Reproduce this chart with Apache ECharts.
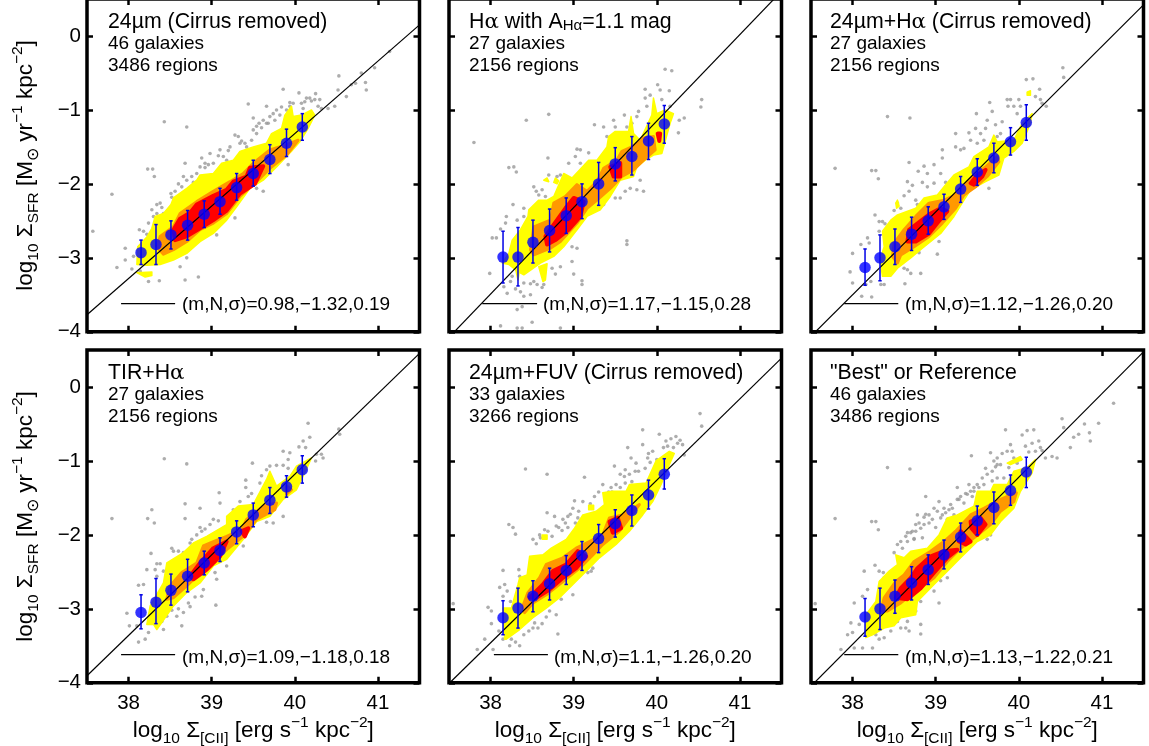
<!DOCTYPE html>
<html><head><meta charset="utf-8">
<style>html,body{margin:0;padding:0;background:#fff}#c{width:1149px;height:746px}</style>
<script src="https://cdn.jsdelivr.net/npm/echarts@6/dist/echarts.min.js"></script>
</head><body><div id="c"></div>
<script>
const xTicks=[38,39,40,41];
const yTicks=[-4,-3,-2,-1,0];
const fitX=[37.5,41.5];
const keyY=-3.62;

const titles=['24µm (Cirrus removed)','H{a|α} with A{s|Hα}=1.1 mag','24µm+H{a|α} (Cirrus removed)','TIR+H{a|α}','24µm+FUV (Cirrus removed)','"Best" or Reference'];
const galaxies=['46 galaxies','27 galaxies','27 galaxies','27 galaxies','33 galaxies','46 galaxies'];
const regions=['3486 regions','2156 regions','2156 regions','2156 regions','3266 regions','3486 regions'];
const fitLabels=['(m,N,σ)=0.98,−1.32,0.19','(m,N,σ)=1.17,−1.15,0.28','(m,N,σ)=1.12,−1.26,0.20','(m,N,σ)=1.09,−1.18,0.18','(m,N,σ)=1.1,−1.26,0.20','(m,N,σ)=1.13,−1.22,0.21'];
const fitY=[[-3.77,0.15],[-4.075,0.605],[-4.06,0.42],[-3.905,0.455],[-4.01,0.39],[-4.045,0.475]];
const keyX=[[37.91,38.56],[37.9,38.56],[37.9,38.55],[37.91,38.56],[38.04,38.69],[37.9,38.55]];

const binX=[38.15,38.33,38.51,38.71,38.91,39.1,39.3,39.5,39.7,39.9,40.09];
const binY1=[-2.93,-2.82,-2.69,-2.56,-2.41,-2.24,-2.05,-1.86,-1.67,-1.45,-1.23];
const binHi1=[-2.76,-2.55,-2.50,-2.36,-2.23,-2.06,-1.86,-1.68,-1.47,-1.26,-1.05];
const binLo1=[-3.09,-3.09,-2.88,-2.76,-2.59,-2.41,-2.22,-2.03,-1.86,-1.63,-1.41];
const binY2=[-2.99,-2.99,-2.79,-2.63,-2.43,-2.24,-2.00,-1.73,-1.63,-1.42,-1.19];
const binHi2=[-2.64,-2.59,-2.49,-2.34,-2.19,-2.0,-1.71,-1.51,-1.36,-1.18,-0.94];
const binLo2=[-3.34,-3.38,-3.07,-2.92,-2.67,-2.47,-2.29,-1.96,-1.88,-1.67,-1.45];
const binY3=[-3.13,-3.0,-2.85,-2.68,-2.50,-2.31,-2.07,-1.84,-1.65,-1.43,-1.17];
const binHi3=[-2.88,-2.69,-2.61,-2.45,-2.31,-2.14,-1.90,-1.66,-1.45,-1.24,-0.93];
const binLo3=[-3.37,-3.31,-3.09,-2.90,-2.68,-2.48,-2.25,-2.02,-1.85,-1.61,-1.41];
const binY4=[-3.05,-2.91,-2.75,-2.56,-2.38,-2.21,-1.96,-1.73,-1.53,-1.35,-1.12];
const binHi4=[-2.81,-2.59,-2.53,-2.33,-2.22,-2.04,-1.81,-1.57,-1.36,-1.20,-0.93];
const binLo4=[-3.27,-3.20,-2.95,-2.77,-2.54,-2.36,-2.12,-1.89,-1.71,-1.49,-1.30];
const binY5=[-3.12,-2.99,-2.83,-2.66,-2.48,-2.28,-2.05,-1.85,-1.67,-1.46,-1.18];
const binHi5=[-2.89,-2.72,-2.62,-2.45,-2.28,-2.09,-1.86,-1.66,-1.46,-1.26,-0.97];
const binLo5=[-3.35,-3.26,-3.04,-2.88,-2.67,-2.48,-2.24,-2.03,-1.88,-1.65,-1.38];
const binY6=[-3.11,-3.0,-2.83,-2.65,-2.47,-2.27,-2.03,-1.81,-1.63,-1.40,-1.15];
const binHi6=[-2.86,-2.72,-2.61,-2.43,-2.27,-2.07,-1.84,-1.61,-1.42,-1.19,-0.95];
const binLo6=[-3.37,-3.28,-3.06,-2.88,-2.67,-2.46,-2.23,-2.0,-1.85,-1.60,-1.36];

const yellow1=[[[38.10,-3.09],[38.11,-2.85],[38.22,-2.72],[38.28,-2.60],[38.32,-2.44],[38.42,-2.40],[38.51,-2.28],[38.54,-2.19],[38.70,-2.06],[38.82,-1.95],[38.86,-1.88],[39.02,-1.86],[39.12,-1.72],[39.26,-1.68],[39.34,-1.56],[39.50,-1.50],[39.66,-1.45],[39.72,-1.32],[39.84,-1.25],[39.88,-1.07],[39.96,-0.95],[39.98,-1.09],[40.08,-1.07],[40.20,-1.0],[40.24,-1.07],[40.16,-1.25],[40.06,-1.43],[39.96,-1.56],[39.78,-1.77],[39.62,-1.95],[39.46,-2.06],[39.30,-2.31],[39.18,-2.49],[39.02,-2.67],[38.86,-2.78],[38.70,-2.94],[38.54,-3.03],[38.38,-3.09],[38.22,-3.10]],[[38.10,-3.2],[38.28,-3.19],[38.28,-3.24],[38.2,-3.26]]];
const orange1=[[[38.38,-2.71],[38.54,-2.58],[38.62,-2.40],[38.82,-2.24],[39.02,-2.10],[39.22,-1.97],[39.38,-1.86],[39.5,-1.72],[39.70,-1.54],[39.90,-1.47],[40.04,-1.41],[39.90,-1.61],[39.70,-1.79],[39.54,-1.97],[39.34,-2.17],[39.18,-2.40],[39.02,-2.53],[38.86,-2.62],[38.70,-2.78],[38.54,-2.89],[38.42,-2.95],[38.34,-2.85]]];
const red1=[[[38.54,-2.62],[38.62,-2.47],[38.74,-2.39],[38.82,-2.28],[39.02,-2.16],[39.18,-2.08],[39.26,-1.97],[39.42,-1.90],[39.46,-1.78],[39.62,-1.76],[39.52,-2.0],[39.34,-2.13],[39.18,-2.36],[39.02,-2.49],[38.86,-2.6],[38.7,-2.71],[38.56,-2.76]]];
const grey1=[[37.8,-2.14],[37.57,-2.64],[38.43,-1.16],[38.7,-1.23],[38.23,-1.8],[38.29,-1.8],[38.31,-1.9],[37.96,-3.03],[37.86,-3.13],[37.96,-2.87],[38.13,-2.62],[38.24,-2.53],[38.18,-2.64],[38.28,-2.35],[38.34,-2.28],[38.38,-2.26],[38.34,-2.4],[38.42,-2.4],[38.51,-2.13],[38.52,-2.18],[38.64,-2.04],[38.68,-1.72],[38.82,-1.86],[38.88,-1.65],[38.98,-1.59],[39.1,-1.54],[39.02,-1.72],[38.96,-1.74],[39.18,-1.68],[39.28,-1.34],[39.32,-1.36],[39.32,-1.63],[39.4,-1.45],[39.42,-1.5],[39.44,-0.92],[39.5,-1.11],[39.57,-1.18],[39.5,-1.27],[39.66,-0.95],[39.62,-1.14],[39.7,-1.09],[39.74,-1.05],[39.86,-0.72],[39.9,-1.0],[39.98,-0.91],[40.05,-0.77],[40.12,-0.89],[40.18,-0.84],[40.25,-0.78],[40.3,-0.86],[40.32,-0.98],[40.4,-0.98],[40.48,-0.95],[40.53,-0.54],[40.52,-0.73],[40.62,-0.82],[40.68,-0.66],[40.73,-0.64],[40.8,-0.5],[40.85,-0.63],[40.86,-0.73],[40.96,-0.43],[41.14,-0.21],[38.68,-3.3],[38.84,-3.26],[38.7,-3.0],[38.62,-3.12],[38.24,-3.32],[38.37,-3.31],[38.14,-3.18],[38.04,-3.15],[39.62,-2.1],[39.54,-2.06],[39.28,-2.46],[39.92,-1.74],[39.06,-2.69],[38.06,-2.98],[38.22,-2.68],[38.28,-2.66],[38.4,-2.32],[38.3,-2.44],[38.56,-2.1],[38.6,-2.0],[38.66,-1.9],[38.78,-1.98],[38.92,-1.78],[39.08,-1.62],[39.2,-1.55],[39.36,-1.42],[39.54,-1.32],[39.6,-1.24],[39.68,-1.18],[39.78,-1.0],[39.84,-0.96],[39.94,-0.9],[40.1,-0.98],[40.2,-0.88],[40.28,-0.95],[38.7,-1.95],[38.76,-1.9],[38.86,-1.77],[38.92,-1.72],[39.14,-1.63],[39.22,-1.5],[39.34,-1.45],[39.48,-1.41],[39.54,-1.22],[39.66,-1.18],[39.76,-1.14],[39.82,-1.07],[39.94,-0.95],[40.08,-0.91],[40.14,-0.84],[40.24,-0.86]];

const yellow2=[[[38.14,-3.07],[38.22,-2.94],[38.26,-2.76],[38.36,-2.62],[38.45,-2.44],[38.46,-2.35],[38.58,-2.22],[38.68,-2.22],[38.76,-2.17],[38.88,-1.86],[38.98,-1.92],[39.18,-1.68],[39.28,-1.68],[39.40,-1.50],[39.42,-1.36],[39.5,-1.29],[39.66,-1.29],[39.69,-1.09],[39.72,-1.32],[39.8,-1.41],[39.94,-1.07],[39.96,-0.84],[40.0,-1.05],[40.10,-1.0],[40.20,-1.05],[40.16,-1.18],[40.06,-1.59],[39.96,-1.61],[39.86,-1.68],[39.76,-1.77],[39.72,-1.90],[39.56,-1.95],[39.44,-2.17],[39.32,-2.35],[39.16,-2.44],[39.04,-2.62],[38.88,-2.85],[38.76,-2.98],[38.6,-3.07],[38.40,-3.23],[38.32,-3.18],[38.22,-3.09]],[[38.58,-3.12],[38.68,-3.08],[38.66,-3.3],[38.63,-3.32]],[[38.3,-3.15],[38.35,-3.15],[38.33,-3.3]],[[38.64,-1.95],[38.68,-1.92],[38.7,-1.97]],[[38.76,-1.98],[38.78,-1.92],[38.82,-1.96],[38.8,-2.0]]];
const orange2=[[[38.48,-2.89],[38.52,-2.58],[38.72,-2.49],[38.76,-2.26],[38.9,-2.17],[39.04,-2.01],[39.16,-2.10],[39.28,-1.97],[39.36,-1.79],[39.52,-1.68],[39.58,-1.56],[39.7,-1.5],[39.84,-1.38],[39.96,-1.36],[39.98,-1.54],[39.84,-1.68],[39.72,-1.81],[39.58,-1.90],[39.44,-2.06],[39.28,-2.22],[39.16,-2.33],[39.04,-2.53],[38.84,-2.78],[38.72,-2.87],[38.52,-2.96]]];
const red2=[[[38.66,-2.71],[38.74,-2.58],[38.9,-2.33],[39,-2.19],[39.12,-2.24],[39.08,-2.44],[38.94,-2.62],[38.78,-2.76],[38.68,-2.82]],[[39.44,-1.77],[39.56,-1.72],[39.56,-1.90],[39.48,-1.90]],[[40.01,-1.32],[40.04,-1.32],[40.03,-1.42]]];
const grey2=[[37.8,-1.44],[38.43,-1.14],[38.7,-1.06],[38.22,-1.78],[38.28,-1.77],[38.31,-1.84],[38.27,-2.28],[38.19,-2.44],[38.18,-2.53],[38.12,-2.61],[38.02,-2.73],[38.07,-2.73],[38.32,-2.49],[38.4,-2.44],[38.4,-2.33],[38.52,-2.04],[38.55,-2.1],[38.62,-2.08],[38.66,-2.17],[38.58,-2.15],[38.69,-1.65],[38.7,-1.88],[38.8,-1.9],[38.84,-1.88],[38.94,-1.72],[39.04,-1.53],[39.08,-1.54],[39.02,-1.63],[39.08,-1.72],[39.18,-1.58],[39.25,-1.2],[39.36,-1.23],[39.4,-1.36],[39.48,-1.14],[39.5,-1.23],[39.61,-1.07],[39.64,-1.23],[39.7,-1.18],[39.78,-1.02],[39.76,-1.09],[39.86,-0.72],[39.86,-0.84],[39.92,-0.8],[39.88,-0.95],[40.01,-0.66],[40.04,-0.73],[40.06,-0.86],[40.15,-0.74],[40.1,-0.45],[40.18,-0.47],[40.54,-0.86],[40.53,-0.96],[40.33,-1.11],[40.27,-1.14],[40.26,-1.31],[40.16,-0.95],[39.64,-2.77],[39.64,-2.82],[39.8,-1.95],[39.84,-2.1],[39.76,-2.08],[39.68,-2.06],[39.62,-2.1],[39.56,-2.19],[39.5,-2.19],[39.36,-2.28],[39.1,-3.31],[39.1,-3.36],[39,-3.22],[38.98,-2.85],[39.04,-2.87],[38.98,-3.05],[38.84,-3.12],[38.78,-3.22],[38.74,-3.14],[38.56,-3.36],[38.4,-3.34],[38.24,-3.32],[38.26,-3.25],[37.99,-3.21],[38.16,-3.39],[38.2,-3.48],[38.4,-3.52],[38.48,-3.5],[38.32,-3.7],[38.38,-3.66],[38.5,-3.87],[38.12,-3.92],[38.32,-3.95],[38.38,-3.95],[38.84,-3.95],[38.52,-3.32],[38.64,-3.36],[38.48,-3.35],[38.62,-3.4],[38.3,-3.42],[38.36,-3.46]];

const yellow3=[[[38.36,-3.25],[38.33,-3.03],[38.38,-2.85],[38.36,-2.64],[38.46,-2.49],[38.54,-2.42],[38.76,-2.33],[38.86,-2.19],[39.02,-2.15],[39.12,-2.01],[39.22,-1.88],[39.4,-1.77],[39.46,-1.63],[39.64,-1.50],[39.70,-1.34],[39.74,-1.43],[39.94,-1.41],[40.04,-1.18],[40.16,-1.05],[40.14,-1.18],[40.04,-1.45],[39.94,-1.56],[39.82,-1.65],[39.76,-1.88],[39.6,-1.97],[39.42,-2.08],[39.34,-2.22],[39.22,-2.44],[39.06,-2.67],[38.84,-2.87],[38.7,-3.0],[38.54,-3.14],[38.46,-3.25]],[[38.52,-2.26],[38.54,-2.22],[38.56,-2.3],[38.53,-2.33]],[[40.1,-0.76],[40.14,-0.74],[40.14,-0.8],[40.1,-0.8]]];
const orange3=[[[38.48,-2.98],[38.5,-2.80],[38.62,-2.62],[38.76,-2.44],[38.92,-2.26],[39.1,-2.22],[39.24,-2.15],[39.46,-1.88],[39.6,-1.77],[39.74,-1.63],[39.76,-1.70],[39.62,-1.90],[39.48,-2.04],[39.34,-2.15],[39.24,-2.33],[39.08,-2.53],[38.92,-2.71],[38.74,-2.85],[38.58,-2.96],[38.54,-3.07]]];
const red3=[[[38.66,-2.78],[38.68,-2.62],[38.94,-2.4],[39.06,-2.33],[39.14,-2.37],[39.02,-2.53],[38.92,-2.67],[38.76,-2.78]],[[39.42,-1.99],[39.5,-1.88],[39.6,-1.81],[39.56,-1.90],[39.46,-2.01]]];
const grey3=[[37.79,-1.79],[38.42,-1.09],[38.69,-1.11],[38.23,-1.82],[38.28,-1.82],[38.31,-1.93],[38.27,-2.42],[38.32,-2.51],[38.36,-2.51],[38.39,-2.54],[38.32,-2.64],[38.18,-2.73],[38.2,-2.8],[38.1,-2.82],[38,-2.94],[37.97,-3.19],[38,-3.34],[38.16,-3.36],[38.22,-3.32],[38.34,-3.36],[38.38,-3.36],[38.11,-3.52],[38.23,-3.53],[38.63,-3.35],[38.7,-3.21],[38.62,-3.14],[38.66,-3.16],[38.82,-3.21],[39.02,-2.95],[38.8,-2.93],[39.04,-2.78],[38.54,-2.26],[38.58,-2.33],[38.68,-2.1],[38.66,-1.97],[38.79,-1.83],[38.86,-1.76],[38.68,-1.71],[38.9,-1.86],[38.98,-1.74],[39.08,-1.54],[39.08,-1.65],[38.98,-1.99],[38.9,-2.04],[38.76,-2.22],[38.78,-2.28],[39.24,-1.32],[39.24,-1.5],[39.34,-1.52],[39.4,-1.31],[39.42,-1.41],[39.49,-1.05],[39.48,-1.25],[39.5,-1.45],[39.58,-1.41],[39.6,-1.25],[39.65,-0.9],[39.68,-1.02],[39.62,-1.14],[39.8,-1.16],[39.78,-1.32],[39.74,-1.36],[39.86,-0.86],[39.9,-0.86],[39.87,-0.95],[39.94,-0.95],[39.98,-1.05],[40,-0.86],[40.02,-0.95],[40.09,-0.59],[40.17,-0.58],[40.12,-0.77],[40.25,-0.72],[40.2,-0.82],[40.26,-0.86],[40.28,-0.91],[40.33,-0.95],[40.53,-0.43],[40.54,-0.56],[39.64,-2.06],[38.5,-2.36],[38.62,-2.16],[38.72,-2.02],[38.84,-1.98],[39.06,-1.86],[39.12,-1.98],[39.3,-1.54],[39.54,-1.32],[39.72,-1.2]];

const yellow4=[[[38.22,-3.21],[38.26,-2.96],[38.42,-2.65],[38.46,-2.38],[38.66,-2.24],[38.78,-2.11],[38.94,-2.02],[39.18,-1.86],[39.18,-1.75],[39.32,-1.61],[39.5,-1.59],[39.66,-1.25],[39.7,-1.14],[39.78,-1.34],[39.94,-1.21],[40.02,-1.07],[40.2,-0.96],[40.12,-1.16],[40.02,-1.39],[39.86,-1.52],[39.7,-1.75],[39.54,-1.82],[39.38,-2.06],[39.18,-2.33],[39.02,-2.42],[38.86,-2.65],[38.7,-2.78],[38.54,-2.96],[38.34,-3.28],[38.3,-3.21]]];
const orange4=[[[38.46,-2.87],[38.5,-2.69],[38.64,-2.51],[38.82,-2.38],[38.9,-2.15],[39.02,-2.09],[39.18,-2.02],[39.36,-1.93],[39.42,-1.79],[39.62,-1.61],[39.78,-1.57],[39.76,-1.66],[39.54,-1.79],[39.4,-2.0],[39.18,-2.2],[39.02,-2.33],[38.86,-2.51],[38.7,-2.69],[38.54,-2.85]],[[39.9,-1.34],[39.96,-1.39],[39.9,-1.45]]];
const red4=[[[38.74,-2.56],[38.86,-2.38],[39.02,-2.18],[39.18,-2.09],[39.1,-2.29],[38.94,-2.47],[38.78,-2.6]],[[39.36,-1.95],[39.44,-1.91],[39.4,-2.02]]];
const grey4=[[37.8,-1.78],[38.43,-0.97],[38.7,-1.04],[38.28,-1.66],[38.23,-1.78],[38.31,-1.84],[38.27,-2.25],[38.34,-2.39],[38.38,-2.39],[38.22,-2.47],[38.32,-2.47],[38.42,-2.49],[38.34,-2.56],[38.18,-2.67],[38.12,-2.68],[37.98,-3.06],[38.01,-3.23],[38.12,-3.45],[38.2,-3.41],[38.1,-3.23],[38.24,-3.32],[38.34,-3.23],[38.4,-3.17],[38.46,-3.1],[38.42,-3.28],[38.64,-3.23],[38.72,-2.92],[38.58,-3.1],[38.66,-3.05],[38.74,-2.97],[38.88,-2.83],[39.05,-2.95],[39.06,-2.6],[39.04,-2.51],[38.68,-1.58],[38.68,-1.78],[38.86,-1.64],[38.88,-1.95],[38.82,-2.0],[38.74,-2.11],[38.52,-2.18],[38.54,-2.22],[38.6,-2.22],[38.66,-2.24],[38.64,-2.33],[39.09,-1.43],[39.1,-1.57],[39.02,-1.79],[39.08,-1.81],[38.98,-1.86],[39.26,-1.66],[39.34,-1.66],[39.41,-1.26],[39.41,-1.36],[39.44,-1.48],[39.49,-1.03],[39.58,-1.3],[39.66,-1.12],[39.7,-1.07],[39.78,-1.06],[39.86,-1.06],[39.86,-0.87],[39.94,-0.89],[39.92,-0.98],[40.05,-0.81],[40.1,-0.73],[40.18,-0.68],[40.13,-0.82],[40.16,-0.49],[40.34,-0.96],[40.26,-0.91],[40.32,-0.91],[40.25,-1.0],[40.54,-0.64],[40.53,-0.57],[39.86,-1.75],[39.74,-1.84],[39.66,-1.83],[39.38,-2.15],[39.18,-2.42],[38.86,-1.9],[38.92,-1.92],[38.76,-2.06],[38.9,-2.74],[38.8,-2.84],[38.52,-3.02],[38.6,-3.0],[39.34,-1.55],[39.48,-1.44],[39.6,-1.2],[39.92,-1.1]];

const yellow5=[[[38.15,-2.99],[38.25,-2.99],[38.33,-2.67],[38.35,-2.58],[38.44,-2.54],[38.47,-2.29],[38.63,-2.27],[38.73,-2.18],[38.91,-2.06],[39.01,-1.91],[39.11,-1.73],[39.27,-1.68],[39.37,-1.59],[39.35,-1.43],[39.47,-1.41],[39.63,-1.41],[39.67,-1.32],[39.87,-1.3],[39.99,-1.0],[40.15,-0.87],[40.21,-0.9],[40.15,-1.05],[40.05,-1.32],[39.95,-1.55],[39.83,-1.73],[39.67,-1.95],[39.51,-2.13],[39.31,-2.31],[39.15,-2.49],[38.99,-2.67],[38.83,-2.85],[38.67,-2.99],[38.51,-3.12],[38.35,-3.28],[38.19,-3.41],[38.17,-3.41]],[[38.62,-2.0],[38.68,-2.0],[38.68,-2.06],[38.62,-2.06]],[[39.18,-1.6],[39.24,-1.6],[39.24,-1.66],[39.18,-1.66]]];
const orange5=[[[38.39,-2.96],[38.45,-2.78],[38.59,-2.58],[38.67,-2.4],[38.87,-2.31],[39.03,-2.18],[39.19,-2.09],[39.35,-2.0],[39.43,-1.77],[39.59,-1.73],[39.79,-1.59],[39.67,-1.77],[39.55,-1.95],[39.35,-2.13],[39.23,-2.27],[39.07,-2.45],[38.87,-2.63],[38.67,-2.81],[38.51,-2.92],[38.41,-3.05]]];
const red5=[[[38.47,-2.85],[38.63,-2.67],[38.75,-2.49],[38.91,-2.4],[39.05,-2.22],[39.15,-2.29],[39.03,-2.45],[38.87,-2.58],[38.71,-2.74],[38.55,-2.85]],[[39.43,-1.82],[39.53,-1.77],[39.57,-1.91],[39.47,-1.97]]];
const grey5=[[37.55,-2.93],[38.42,-1.11],[38.68,-1.18],[38.22,-1.86],[38.27,-1.9],[38.3,-1.99],[38.15,-2.48],[38.34,-2.47],[38.35,-2.56],[38.17,-2.67],[38.11,-2.71],[38.15,-2.83],[37.97,-2.98],[38.01,-3.03],[38.01,-3.2],[37.93,-3.41],[37.84,-3.55],[38.03,-3.55],[38.15,-3.41],[38.25,-3.41],[38.23,-3.5],[38.35,-3.5],[38.57,-3.26],[38.53,-3.19],[38.51,-3.26],[38.67,-3.11],[38.81,-3.34],[38.79,-3.08],[38.71,-3.03],[38.85,-2.87],[38.99,-2.81],[39.17,-2.51],[39.21,-2.49],[39.23,-2.45],[38.51,-2.06],[38.59,-2.0],[38.65,-1.93],[38.69,-1.95],[38.79,-1.88],[38.77,-1.75],[38.68,-1.7],[38.87,-1.79],[38.93,-1.75],[38.99,-1.64],[39.01,-1.54],[39.11,-1.55],[39.15,-1.77],[39.05,-1.77],[39.25,-1.48],[39.13,-1.22],[39.35,-1.32],[39.45,-1.36],[39.51,-1.32],[39.49,-1.07],[39.61,-1.21],[39.67,-1.18],[39.69,-0.96],[39.65,-0.82],[39.75,-1.03],[39.83,-0.58],[39.83,-0.78],[39.89,-0.96],[39.95,-0.87],[40.03,-0.64],[40.11,-0.73],[40.13,-0.8],[40.23,-0.67],[40.25,-0.76],[40.31,-0.78],[40.33,-0.92],[40.52,-0.36],[40.54,-0.53],[38.4,-2.62],[38.24,-2.9],[38.2,-2.76],[38.55,-2.12],[38.74,-2.02],[38.86,-1.94],[38.93,-1.9],[39.02,-1.84],[39.3,-1.42],[39.42,-1.42],[39.56,-1.18],[39.62,-1.12],[39.74,-1.14],[39.92,-1.02],[40.08,-0.82],[40.17,-0.7],[38.46,-3.3],[38.4,-3.35],[38.62,-3.2],[38.6,-2.04],[38.82,-1.9],[38.9,-1.84],[38.96,-1.72],[39.06,-1.68],[39.2,-1.58],[39.38,-1.46],[39.46,-1.42],[39.56,-1.36],[39.62,-1.3],[39.7,-1.28],[39.78,-1.14],[39.86,-1.1],[39.9,-0.9],[40.0,-0.98],[40.2,-0.82],[40.28,-0.72],[38.3,-3.45],[38.1,-3.3]];

const yellow6=[[[38.16,-3.39],[38.16,-3.08],[38.28,-2.9],[38.32,-2.63],[38.44,-2.49],[38.54,-2.4],[38.52,-2.27],[38.62,-2.31],[38.7,-2.22],[38.9,-2.18],[39.04,-2.0],[39.14,-1.77],[39.26,-1.73],[39.46,-1.61],[39.5,-1.41],[39.66,-1.41],[39.7,-1.32],[39.86,-1.32],[39.94,-1.14],[40.1,-1.09],[40.2,-0.98],[40.16,-1.16],[40.02,-1.41],[39.94,-1.64],[39.78,-1.82],[39.66,-2.0],[39.5,-2.09],[39.3,-2.31],[39.14,-2.49],[38.98,-2.67],[38.78,-2.9],[38.76,-3.08],[38.58,-3.12],[38.5,-3.23],[38.38,-3.26],[38.24,-3.35]],[[39.86,-1.03],[40.02,-0.94],[40.04,-0.98],[39.9,-1.05]]];
const orange6=[[[38.34,-3.03],[38.38,-2.85],[38.52,-2.63],[38.62,-2.54],[38.74,-2.36],[38.94,-2.22],[39.1,-2.09],[39.24,-1.95],[39.42,-1.73],[39.58,-1.64],[39.78,-1.52],[39.97,-1.43],[39.94,-1.55],[39.78,-1.68],[39.66,-1.86],[39.46,-2.04],[39.3,-2.18],[39.14,-2.36],[38.98,-2.58],[38.74,-2.78],[38.58,-2.92],[38.42,-3.03]]];
const red6=[[[38.52,-2.85],[38.58,-2.72],[38.7,-2.58],[38.78,-2.45],[38.94,-2.29],[39.1,-2.22],[39.26,-2.2],[39.14,-2.31],[38.98,-2.51],[38.82,-2.72],[38.66,-2.87]],[[39.42,-1.82],[39.54,-1.77],[39.6,-1.86],[39.5,-2.0],[39.43,-1.91]],[[39.3,-1.95],[39.42,-2.09],[39.36,-2.13],[39.28,-2.09]]];
const grey6=[[37.55,-2.93],[37.79,-1.78],[38.42,-1.09],[38.69,-1.11],[38.23,-1.82],[38.28,-1.82],[38.31,-1.93],[38.14,-2.49],[38.27,-2.41],[38.32,-2.49],[38.37,-2.51],[38.38,-2.58],[38.34,-2.63],[38.18,-2.74],[38.12,-2.83],[38.02,-2.92],[37.98,-3.19],[37.94,-3.35],[38,-3.32],[37.86,-3.55],[38.02,-3.53],[38.12,-3.53],[38.24,-3.53],[38.38,-3.39],[38.32,-3.41],[38.28,-3.35],[38.58,-3.26],[38.54,-3.17],[38.66,-3.17],[38.64,-3.26],[38.68,-3.3],[38.82,-3.34],[38.82,-3.21],[38.76,-3.03],[38.82,-2.9],[39.04,-2.92],[38.98,-2.76],[39.06,-2.62],[39.14,-2.58],[38.5,-2.24],[38.54,-2.13],[38.58,-2.09],[38.66,-1.97],[38.7,-1.97],[38.76,-1.95],[38.8,-1.84],[38.78,-1.73],[38.86,-1.76],[38.88,-1.48],[38.82,-1.91],[38.92,-1.84],[38.96,-1.79],[38.98,-1.64],[39.04,-1.55],[39.1,-1.64],[39.14,-1.79],[39.08,-1.73],[39.18,-1.59],[39.2,-1.64],[39.26,-1.36],[39.3,-1.48],[39.34,-1.57],[39.4,-1.32],[39.42,-1.41],[39.44,-1.48],[39.43,-0.93],[39.5,-1.32],[39.56,-1.23],[39.62,-1.18],[39.68,-1.14],[39.66,-0.89],[39.7,-1.0],[39.74,-0.96],[39.78,-1.05],[39.84,-0.58],[39.86,-0.87],[39.92,-0.87],[39.94,-0.96],[40.02,-0.98],[40.04,-0.65],[40.1,-0.59],[40.16,-0.76],[40.18,-0.58],[40.24,-0.73],[40.26,-0.82],[40.2,-0.87],[40.32,-0.96],[40.4,-0.94],[40.46,-0.96],[40.52,-0.43],[40.54,-0.55],[40.62,-0.82],[40.66,-0.68],[40.72,-0.64],[40.79,-0.5],[40.85,-0.62],[40.86,-0.73],[40.96,-0.49],[41.14,-0.22],[39.66,-2.0],[39.62,-2.06],[38.64,-2.02],[38.74,-2.05],[38.88,-1.72],[39.0,-1.9],[39.12,-1.7],[39.28,-1.52],[39.36,-1.44],[39.46,-1.36],[39.6,-1.1],[39.72,-1.08],[39.8,-0.9],[39.9,-0.78],[40.08,-0.8],[40.12,-0.88],[40.28,-0.86],[38.6,-2.18],[38.66,-2.09],[38.74,-2.06],[38.84,-2.04],[38.72,-1.95],[38.76,-1.86],[38.86,-1.86],[38.92,-1.73],[39.02,-1.68],[39.06,-1.77],[39.16,-1.66],[39.22,-1.73],[39.26,-1.52],[39.38,-1.45],[39.46,-1.41],[39.52,-1.36],[39.58,-1.32],[39.68,-1.27],[39.74,-1.23],[39.82,-1.23],[39.88,-1.09],[39.98,-1.03],[39.74,-1.05],[38.46,-3.3],[38.08,-3.21],[38.18,-3.3]];

const yellows=[yellow1,yellow2,yellow3,yellow4,yellow5,yellow6];
const oranges=[orange1,orange2,orange3,orange4,orange5,orange6];
const reds=[red1,red2,red3,red4,red5,red6];
const greys=[grey1,grey2,grey3,grey4,grey5,grey6];
const binYs=[binY1,binY2,binY3,binY4,binY5,binY6];
const binHis=[binHi1,binHi2,binHi3,binHi4,binHi5,binHi6];
const binLos=[binLo1,binLo2,binLo3,binLo4,binLo5,binLo6];

const FONT='"Liberation Sans", Arial, sans-serif';
const colLeft=[87,449,811], rowTop=[-1,350], W=332.5, H=332.8;
const textLeft=[108,469,830], rowTextY=[22.5,373.5];
const fitTextLeft=[182,543,905,182,554,905];
const fitTextY=[305,305,305,658,658,658];

const grids=[],xAxes=[],yAxes=[],series=[],graphic=[];
const nameRich={m:{fontSize:22.5,lineHeight:32,fontFamily:FONT,color:'#000'},s:{fontSize:15.5,lineHeight:16,verticalAlign:'bottom',fontFamily:FONT,color:'#000'},u:{fontSize:15.5,lineHeight:16,verticalAlign:'top',fontFamily:FONT,color:'#000'}};
const yName='{m|log}{s|10}{m| Σ}{s|SFR}{m| [M}{s|⊙}{m| yr}{u|−1}{m| kpc}{u|−2}{m|]}';
const xName='{m|log}{s|10}{m| Σ}{s|[CII]}{m| [erg s}{u|−1}{m| kpc}{u|−2}{m|]}';

function polySeries(i,polys,color,z,sw){
  return {type:'custom',xAxisIndex:i*2,yAxisIndex:i*2,coordinateSystem:'cartesian2d',z,clip:true,silent:true,
    data:polys.map((p,k)=>[p[0][0],p[0][1],k]),
    renderItem(params,api){
      const pts=polys[params.dataIndex].map(v=>api.coord(v));
      return {type:'polygon',shape:{points:pts},style:{fill:color,stroke:color,lineWidth:sw,lineJoin:'round'}};
    }};
}
for(let i=0;i<6;i++){
  const c=i%3,r=i<3?0:1,isLeft=c===0,isBottom=r===1;
  grids.push({left:colLeft[c],top:rowTop[r],width:W,height:H,show:true,borderColor:'#000',borderWidth:3.5,backgroundColor:'#fff',containLabel:false,outerBoundsMode:'none'});
  const tick={show:true,inside:true,length:6,lineStyle:{color:'#000',width:2.5}};
  const line={show:false,onZero:false};
  xAxes.push({gridIndex:i,type:'value',min:37.5,max:41.5,position:'bottom',splitLine:{show:false},axisLine:line,
    axisTick:{...tick,customValues:xTicks},
    axisLabel:{show:isBottom,customValues:xTicks,fontSize:20.5,fontFamily:FONT,color:'#000',margin:10},
    name:isBottom?xName:'',nameLocation:'middle',nameGap:27,nameTextStyle:{rich:nameRich}});
  xAxes.push({gridIndex:i,type:'value',min:37.5,max:41.5,position:'top',splitLine:{show:false},axisLine:line,
    axisTick:{...tick,customValues:xTicks},axisLabel:{show:false}});
  yAxes.push({gridIndex:i,type:'value',min:-4,max:0.5,position:'left',splitLine:{show:false},axisLine:line,
    axisTick:{...tick,customValues:yTicks},
    axisLabel:{show:isLeft,customValues:yTicks,fontSize:20.5,fontFamily:FONT,color:'#000',margin:6,formatter:v=>String(v).replace('-','−')},
    name:isLeft?yName:'',nameLocation:'middle',nameGap:45,nameRotate:90,nameTextStyle:{rich:nameRich}});
  yAxes.push({gridIndex:i,type:'value',min:-4,max:0.5,position:'right',splitLine:{show:false},axisLine:line,
    axisTick:{...tick,customValues:yTicks},axisLabel:{show:false}});

  series.push({type:'scatter',xAxisIndex:i*2,yAxisIndex:i*2,data:greys[i],symbolSize:3.6,z:1,clip:true,silent:true,itemStyle:{color:'#999999'}});
  series.push(polySeries(i,yellows[i],'#ffff00',2,1.5));
  series.push(polySeries(i,oranges[i],'#ff9900',3,3));
  series.push(polySeries(i,reds[i],'#ff0000',4,4));
  series.push({type:'line',xAxisIndex:i*2,yAxisIndex:i*2,data:[[fitX[0],fitY[i][0]],[fitX[1],fitY[i][1]]],showSymbol:false,z:5,silent:true,lineStyle:{color:'#000',width:1.2}});
  series.push({type:'line',xAxisIndex:i*2,yAxisIndex:i*2,data:[[keyX[i][0],keyY],[keyX[i][1],keyY]],showSymbol:false,z:5,silent:true,lineStyle:{color:'#000',width:1.2}});
  series.push({type:'custom',xAxisIndex:i*2,yAxisIndex:i*2,z:6,silent:true,encode:{x:0,y:[1,2]},
    data:binX.map((x,k)=>[x,binLos[i][k],binHis[i][k]]),
    renderItem(params,api){
      const x=api.value(0),a=api.coord([x,api.value(1)]),b=api.coord([x,api.value(2)]),w=1.7;
      const st={stroke:'#0000e6',lineWidth:1.5};
      return {type:'group',children:[
        {type:'line',shape:{x1:a[0],y1:a[1],x2:b[0],y2:b[1]},style:st},
        {type:'line',shape:{x1:a[0]-w,y1:a[1],x2:a[0]+w,y2:a[1]},style:st},
        {type:'line',shape:{x1:b[0]-w,y1:b[1],x2:b[0]+w,y2:b[1]},style:st}]};
    }});
  series.push({type:'scatter',xAxisIndex:i*2,yAxisIndex:i*2,data:binX.map((x,k)=>[x,binYs[i][k]]),symbolSize:11.5,z:7,silent:true,itemStyle:{color:'#0000ff'}});

  const tx=textLeft[c],ty=rowTextY[r];
  graphic.push({type:'text',x:tx,y:ty,z:20,style:{text:titles[i],fontSize:21.3,fontFamily:FONT,fill:'#000',verticalAlign:'middle',
    rich:{a:{fontSize:21.3,fontFamily:'"DejaVu Serif","Liberation Serif",serif',fill:'#000'},s:{fontSize:15,fontFamily:FONT,fill:'#000',verticalAlign:'bottom',lineHeight:15}}}});
  graphic.push({type:'text',x:tx,y:ty+21,z:20,style:{text:galaxies[i],fontSize:19,fontFamily:FONT,fill:'#000',verticalAlign:'middle'}});
  graphic.push({type:'text',x:tx,y:ty+43,z:20,style:{text:regions[i],fontSize:19,fontFamily:FONT,fill:'#000',verticalAlign:'middle'}});
  graphic.push({type:'text',x:fitTextLeft[i],y:fitTextY[i],z:20,style:{text:fitLabels[i],fontSize:19,fontFamily:FONT,fill:'#000',verticalAlign:'middle'}});
}
const chart=echarts.init(document.getElementById('c'),null,{renderer:'canvas'});
chart.setOption({animation:false,backgroundColor:'#fff',grid:grids,xAxis:xAxes,yAxis:yAxes,series,graphic});
</script></body></html>
